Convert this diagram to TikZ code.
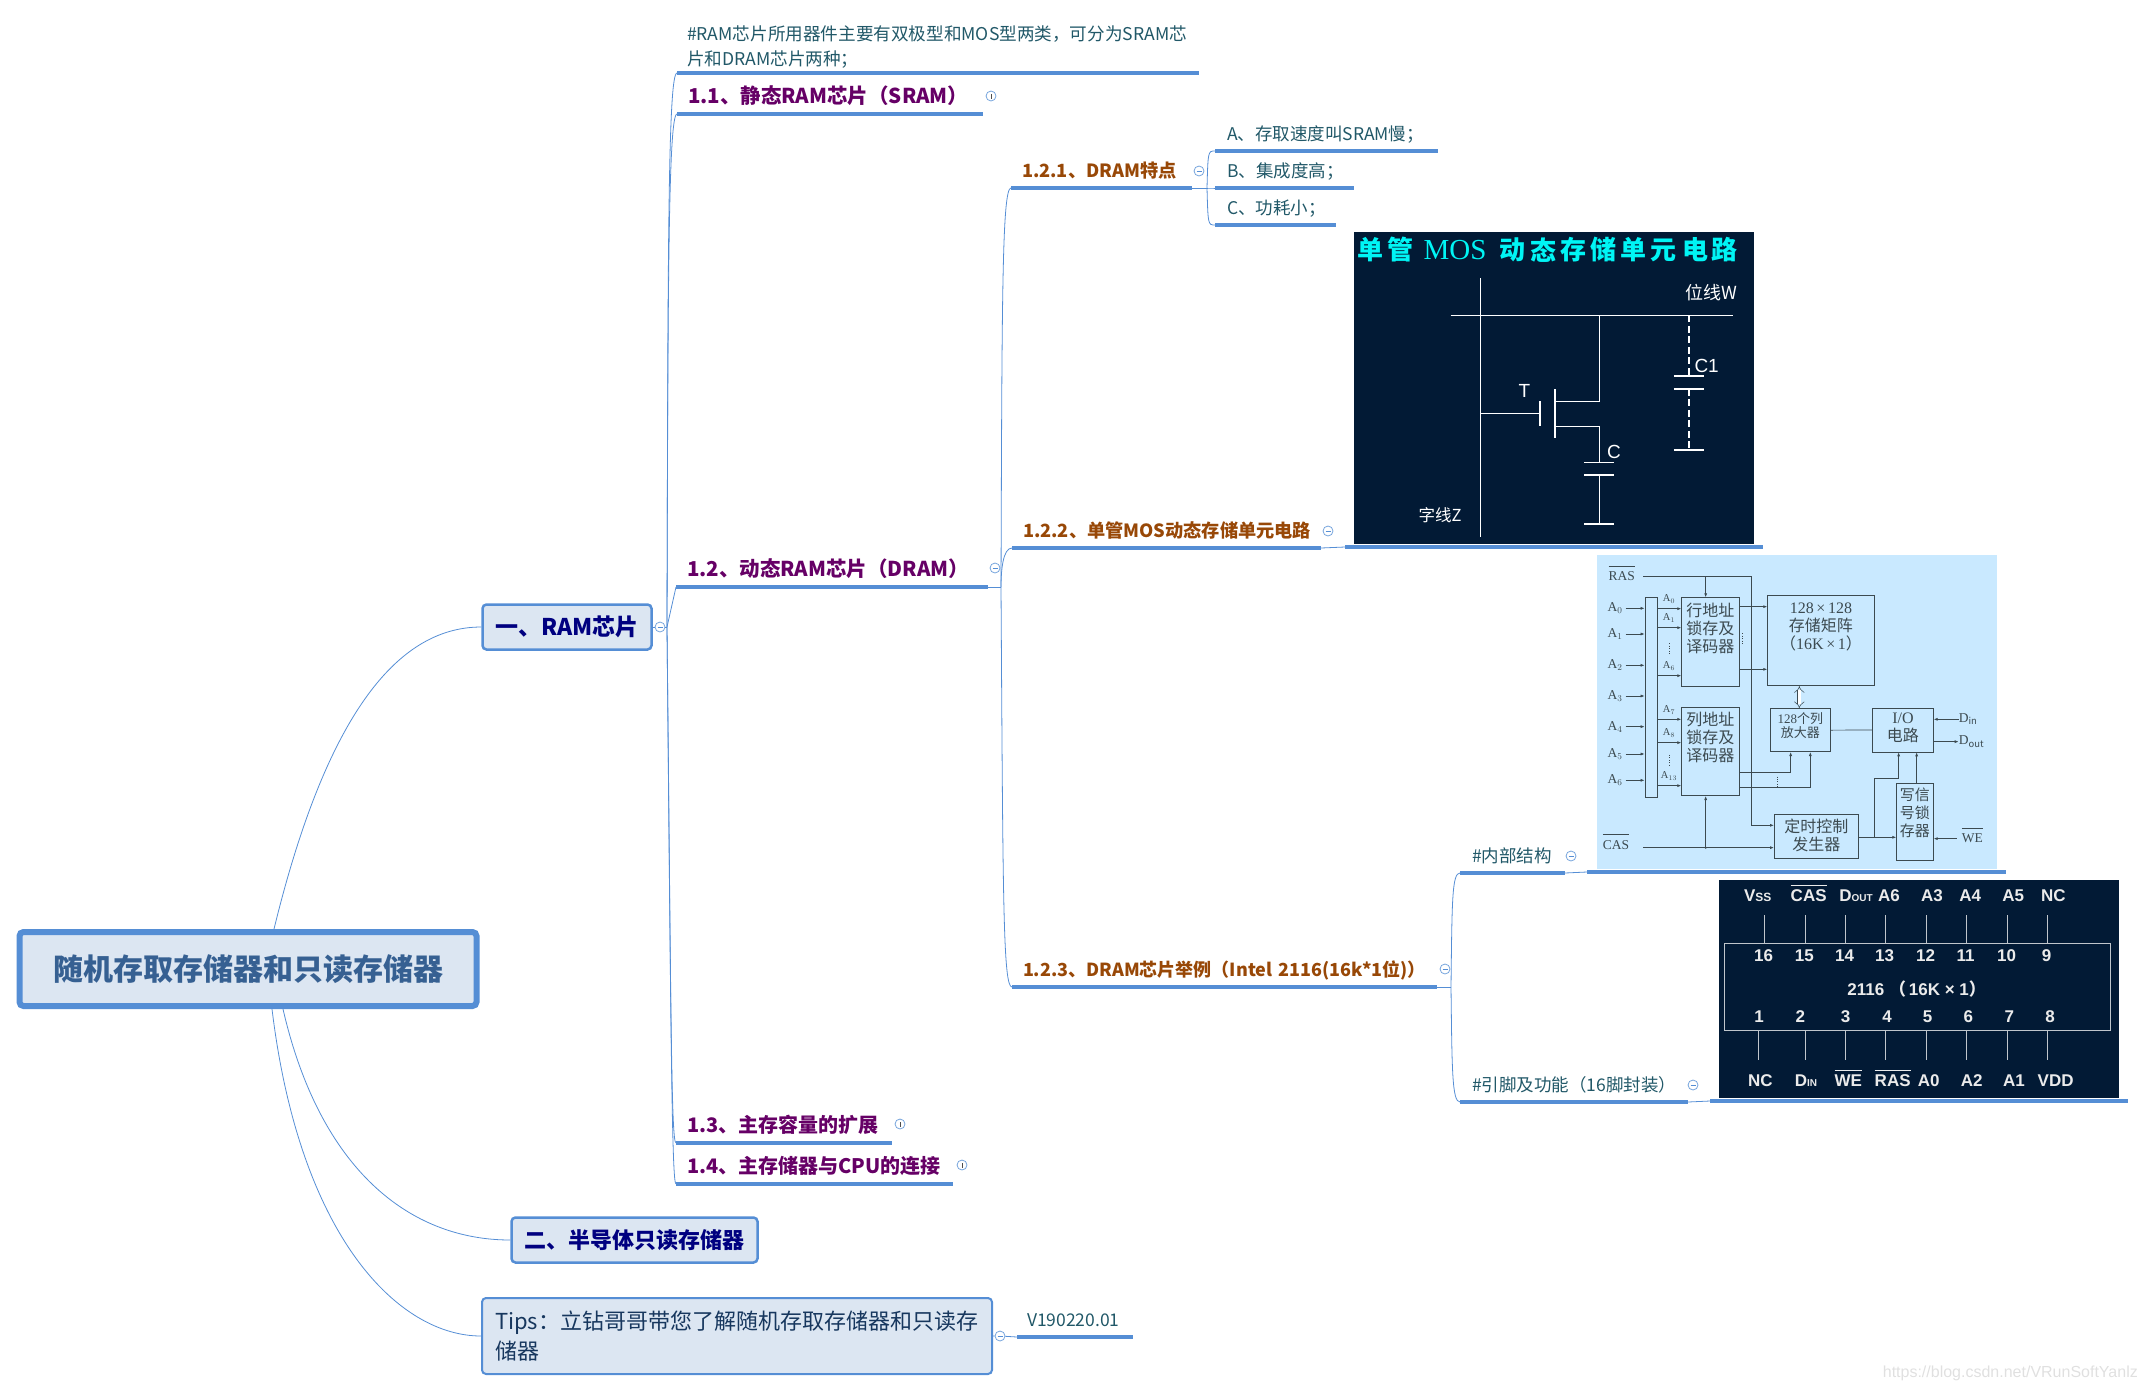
\documentclass[tikz,border=0pt]{standalone}
\usepackage{fontspec}
\setmainfont{Noto Sans CJK SC}
\newfontfamily\imgserif{Liberation Serif}
\newfontfamily\imgsans{Liberation Sans}
\usepackage{xcolor}
\usetikzlibrary{arrows.meta,positioning}
\definecolor{mapblue}{HTML}{558ED5}
\definecolor{mapfill}{HTML}{DCE6F2}
\definecolor{rootink}{HTML}{366092}
\definecolor{boxink}{HTML}{000080}
\definecolor{subink}{HTML}{660066}
\definecolor{dramink}{HTML}{984807}
\definecolor{noteink}{HTML}{215868}
\definecolor{tipsink}{HTML}{17375E}
\definecolor{imgnavy}{HTML}{021A35}
\definecolor{imgsky}{HTML}{C9E9FF}
\definecolor{imgline}{HTML}{3C4A50}
\definecolor{imgcyan}{HTML}{00F5F5}
\tikzset{
  mapbox/.style  = {draw=mapblue, fill=mapfill, rounded corners=4pt, line width=2.5pt,
                    inner sep=0pt, align=center},
  branch/.style  = {draw=mapblue, line width=.8pt},
  uline/.style   = {draw=mapblue, line width=3.2pt},
  topic/.style   = {anchor=south west, inner ysep=7pt, inner xsep=11pt, outer sep=0pt,
                    text height=15pt, text depth=4pt, align=left,
                    text width=\dimexpr#1pt-22pt\relax,
                    append after command={(\tikzlastnode.south west) edge[uline] (\tikzlastnode.south east)}},
  fold/.style    = {circle, draw=mapblue!80, line width=.8pt, fill=white,
                    minimum size=10pt, inner sep=0pt},
  foldm/.style   = {fold, path picture={\draw[mapblue,line width=.8pt]
                    ([xshift=2.5pt]path picture bounding box.west) -- ([xshift=-2.5pt]path picture bounding box.east);}},
  foldp/.style   = {foldm, path picture={\draw[black!70,line width=.8pt]
                    ([yshift=2.5pt]path picture bounding box.south) -- ([yshift=-2.5pt]path picture bounding box.north);}},
  lvlb/.style    = {font=\bfseries\fontsize{20}{24}\selectfont, text=subink},
  lvlc/.style    = {font=\bfseries\fontsize{18.2}{24}\selectfont, text=dramink},
  lvld/.style    = {font=\fontsize{17.5}{22}\selectfont, text=noteink},
  imgrect/.style = {draw=imgline, line width=.7pt, inner sep=0pt},
  imgtxt/.style  = {text=imgline, align=center, inner sep=0pt, font=\fontsize{16}{18}\selectfont},
  imglab/.style  = {text=imgline, inner sep=0pt, font=\imgserif\fontsize{13.5}{15}\selectfont},
  imgsmall/.style= {text=imgline, inner sep=0pt, font=\imgserif\fontsize{10.5}{12}\selectfont},
  sig/.style     = {imgline, line width=.7pt, -{Latex[length=4pt,width=3pt]}},
  wire/.style    = {white, line width=1.6pt},
  dashwire/.style= {wire, dash pattern=on 7pt off 3.5pt},
  wirelab/.style = {text=white, inner sep=0pt, font=\imgsans\fontsize{19}{22}\selectfont},
  pin/.style     = {draw=white!75!imgnavy, line width=.7pt},
  pintxt/.style  = {text=white!92!black, inner sep=0pt, font=\imgsans\bfseries\fontsize{17}{20}\selectfont},
}
\newcommand{\barlab}[2]{$\overline{\mbox{\rule{0pt}{#1}#2}}$}
\begin{document}
\begin{tikzpicture}[x=1pt,y=-1pt]
\useasboundingbox (0,0) rectangle (2146,1392);
% boxes on the left
\node[mapbox, line width=6pt, minimum width=457pt, minimum height=74pt, text=rootink,
      font=\bfseries\fontsize{30}{34}\selectfont] (root) at (248,969) {随机存取存储器和只读存储器};
\node[mapbox, minimum width=169pt, minimum height=45pt, text=boxink,
      font=\bfseries\fontsize{23}{28}\selectfont] (ram) at (567,627) {一、RAM芯片};
\node[mapbox, minimum width=246pt, minimum height=45pt, text=boxink,
      font=\bfseries\fontsize{22}{28}\selectfont] (rom) at (634.5,1240) {二、半导体只读存储器};
\node[mapbox, line width=2pt, minimum width=510pt, minimum height=76pt, text=tipsink,
      text width=484pt, align=left, font=\fontsize{22}{30}\selectfont] (tips) at (737,1336)
  {Tips：立钻哥哥带您了解随机存取存储器和只读存\\储器};
\draw[branch] ([xshift=26pt]root.north) .. controls (325,720) and (395,627) .. (ram.west);
\draw[branch] ([xshift=35pt]root.south) .. controls (320,1170) and (410,1240) .. (rom.west);
\draw[branch] ([xshift=24pt]root.south) .. controls (300,1240) and (400,1336) .. (tips.west);
% version tag
\node[foldm] (ftips) at (1000,1336) {};
\node[topic=118, lvld, inner xsep=10pt] (ver) at (1017,1337) {V190220.01};
\draw[branch] (tips.east) -- (ftips) -- (ver.south west);
% first level under the RAM box
\node[foldm] (fram) at (660,627) {};
\coordinate (jram) at (667,627);
\draw[branch] (ram.east) -- (fram) -- (jram);
\node[anchor=south west, outer sep=0pt, inner xsep=10pt, inner ysep=5pt, align=left, text width=502pt,
      lvld, font=\fontsize{17.6}{24.5}\selectfont,
      append after command={(\tikzlastnode.south west) edge[uline] (\tikzlastnode.south east)}] (note) at (677,73)
  {\#RAM芯片所用器件主要有双极型和MOS型两类，可分为SRAM芯\\片和DRAM芯片两种；};
\node[topic=306, lvlb, font=\bfseries\fontsize{20.5}{24}\selectfont] (sram) at (677,114) {1.1、静态RAM芯片（SRAM）};
\node[topic=312, lvlb, font=\bfseries\fontsize{20.5}{24}\selectfont] (dram) at (676,587) {1.2、动态RAM芯片（DRAM）};
\node[topic=216, lvlb] (expand) at (676,1143) {1.3、主存容量的扩展};
\node[topic=277, lvlb] (cpu) at (676,1184) {1.4、主存储器与CPU的连接};
\node[foldp] (fsram) at (991,96) {};
\node[foldm] (fdram) at (995,568) {};
\node[foldp] (fexpand) at (900,1124) {};
\node[foldp] (fcpu) at (962,1165) {};
\draw[branch] (jram) .. controls (668,250) and (668,73) .. (note.south west);
\draw[branch] (jram) .. controls (668,300) and (668,114) .. (sram.south west);
\draw[branch] (jram) -- (dram.south west);
\draw[branch] (jram) .. controls (671,1000) and (671,1143) .. (expand.south west);
\draw[branch] (jram) .. controls (671,1050) and (672,1184) .. (cpu.south west);
% second level under 1.2
\coordinate (jdram) at (1001,587);
\draw[branch] (dram.south east) -- (jdram);
\node[topic=181, lvlc] (feat) at (1011,188) {1.2.1、DRAM特点};
\node[topic=309, lvlc] (mos) at (1012,548) {1.2.2、单管MOS动态存储单元电路};
\node[topic=425, lvlc, font=\bfseries\fontsize{18}{24}\selectfont] (chip) at (1012,987) {1.2.3、DRAM芯片举例（Intel~2116(16k*1位)）};
\node[foldm] (ffeat) at (1199,171) {};
\node[foldm] (fmos) at (1328,531) {};
\node[foldm] (fchip) at (1445,969) {};
\draw[branch] (jdram) .. controls (1002,300) and (1002,188) .. (feat.south west);
\draw[branch] (jdram) .. controls (1001,570) and (1003,548) .. (mos.south west);
\draw[branch] (jdram) .. controls (1003,900) and (1003,987) .. (chip.south west);
% three short notes of 1.2.1
\coordinate (jfeat) at (1207,188);
\draw[branch] (feat.south east) -- (jfeat);
\foreach \n/\y/\w/\lab in {a/151/221/A、存取速度叫SRAM慢；, b/188/137/B、集成度高；, c/225/119/C、功耗小；}{
  \node[topic=\w, lvld, inner xsep=12pt] (note\n) at (1215,\y) {\lab};
  \draw[branch] (jfeat) .. controls (1208,\y) and (1208,\y) .. (note\n.south west);}
% image under 1.2.2
\coordinate (mosa) at (1345,547);
\coordinate (mosb) at (1763,547);
\draw[branch] (mos.south east) -- (mosa);
\draw[uline] (mosa) -- (mosb);
\node[fill=imgnavy, minimum width=400pt, minimum height=312pt, inner sep=0pt] (mosimg) at (1554,388) {};
\begin{scope}[shift={(1340,220)},x=0.3333pt,y=-0.3333pt]
\foreach \x/\lab [count=\i] in {90/单, 182/管, 345/{\imgserif\mdseries\fontsize{29}{30}\selectfont MOS}, 517/动, 610/态, 700/存, 790/储, 880/单, 972/元, 1067/电, 1155/路}{
  \node[text=imgcyan, inner sep=0pt, font=\bfseries\fontsize{26}{28}\selectfont] (ttl\i) at (\x,90) {\lab};}
\draw[wire] (421,174) -- (421,950);
\draw[wire] (332,286) -- (1180,286);
\draw[wire] (778,286) -- (778,545) -- (645,545);
\draw[wire] (645,508) -- (645,655);
\draw[wire] (645,620) -- (778,620) -- (778,728);
\draw[wire] (733,728) -- (823,728);
\draw[wire] (733,765) -- (823,765);
\draw[wire] (778,765) -- (778,912);
\draw[wire] (733,912) -- (823,912);
\draw[wire] (421,580) -- (600,580);
\draw[wire] (600,544) -- (600,617);
\draw[dashwire] (1047,286) -- (1047,468);
\draw[wire] (1002,468) -- (1092,468);
\draw[wire] (1002,507) -- (1092,507);
\draw[dashwire] (1047,507) -- (1047,690);
\draw[wire] (1002,690) -- (1092,690);
\node[wirelab] (lblt) at (553,512) {T};
\node[wirelab] (lblc) at (822,697) {C};
\node[wirelab] (lblca) at (1100,437) {C1};
\node[wirelab, font=\fontsize{16.5}{18}\selectfont] (lblz) at (300,885) {字线Z};
\node[wirelab, font=\fontsize{18}{20}\selectfont] (lblw) at (1115,218) {位线W};
\end{scope}
% block diagram under the first child of 1.2.3
\node[topic=103, lvld, inner xsep=12pt] (inner) at (1460,873) {\#内部结构};
\node[topic=226, lvld, inner xsep=12pt] (pins) at (1460,1102) {\#引脚及功能（16脚封装）};
\node[foldm] (finner) at (1571,856) {};
\node[foldm] (fpins) at (1693,1085) {};
\coordinate (jchip) at (1451,987);
\draw[branch] (chip.south east) -- (jchip);
\draw[branch] (jchip) .. controls (1452,900) and (1452,873) .. (inner.south west);
\draw[branch] (jchip) .. controls (1452,1070) and (1452,1102) .. (pins.south west);
\coordinate (blka) at (1587,872);
\coordinate (blkb) at (2006,872);
\draw[branch] (inner.south east) -- (blka);
\draw[uline] (blka) -- (blkb);
\node[fill=imgsky, minimum width=400pt, minimum height=314pt, inner sep=0pt] (blkimg) at (1797,712) {};
\begin{scope}[shift={(1590,550)},x=0.3333pt,y=-0.3333pt]
\node[imgrect, minimum width=12.7pt, minimum height=200pt] (addrbus) at (184,443) {};
\node[imgrect, minimum width=57.3pt, minimum height=88.3pt] (rowdec) at (361,275.5) {};
\node[imgrect, minimum width=57.3pt, minimum height=88pt] (coldec) at (361,605) {};
\node[imgrect, minimum width=106.7pt, minimum height=90.3pt] (matrix) at (693,271.5) {};
\node[imgrect, minimum width=60.7pt, minimum height=43pt] (sense) at (631,540.5) {};
\node[imgrect, minimum width=60.7pt, minimum height=44pt] (iocirc) at (939,540) {};
\node[imgrect, minimum width=84.3pt, minimum height=44pt] (timing) at (679.5,859) {};
\node[imgrect, minimum width=36.7pt, minimum height=77pt] (wrlatch) at (975,815.5) {};
\node[imgtxt] (rowtxt) at (361,234) {行地址\\锁存及\\译码器};
\node[imgtxt] (coltxt) at (361,562) {列地址\\锁存及\\译码器};
\node[imgtxt] (mattxt) at (693,230) {{\imgserif 128\,×\,128}\\存储矩阵\\（{\imgserif 16K\,×\,1}）};
\node[imgtxt, font=\fontsize{13}{14.5}\selectfont] (sentxt) at (631,527) {{\imgserif 128}个列\\放大器};
\node[imgtxt] (iotxt) at (939,534) {{\imgserif I/O}\\电路};
\node[imgtxt] (timtxt) at (679,856) {定时控制\\发生器};
\node[imgtxt, font=\fontsize{15}{18}\selectfont] (wrtxt) at (975,788) {写信\\号锁\\存器};
\node[imglab, anchor=base] (ras) at (95,92) {\barlab{13.5pt}{RAS}};
\node[imglab, anchor=base] (cas) at (78,898) {\barlab{13.5pt}{CAS}};
\node[imglab, anchor=base] (we) at (1147,878) {\barlab{13.5pt}{WE}};
\foreach \i/\y in {0/175,1/252,2/346,3/438,4/530,5/612,6/691}{
  \node[imglab, anchor=east] (adr\i) at (98,\y) {A$_{\i}$};
  \draw[sig] ([xshift=3pt]adr\i.east) -- (addrbus.west |- adr\i);}
\foreach \y/\lab in {176/A$_{0}$, 233/A$_{1}$, 377/A$_{6}$, 508/A$_{7}$, 578/A$_{8}$, 707/A$_{13}$}{
  \coordinate (busout) at (addrbus.east |- 0,\y);
  \coordinate (busin) at (rowdec.west |- 0,\y);
  \draw[sig] (busout) -- (busin);
  \node[imgsmall, anchor=south] (tap\y) at (237,\y-15) {\lab};}
\draw[imgline,dotted] (238,280) -- (238,310);
\draw[imgline,dotted] (238,615) -- (238,645);
\draw[imgline,dotted] (457,250) -- (457,285);
\draw[imgline,dotted] (561,680) -- (561,712);
\draw[imgline, line width=.7pt] ([xshift=8pt]ras.east |- 0,78) -- (485,78);
\draw[sig] (347,78) -- (rowdec.north -| 347,0);
\draw[sig] (485,78) |- (timing.west |- 0,826);
\draw[sig] (rowdec.east |- 0,170) -- (matrix.west |- 0,170);
\draw[sig] (rowdec.east |- 0,358) -- (matrix.west |- 0,358);
\draw[sig] (coldec.east |- 0,667) -| (sense.south -| 602,0);
\draw[sig] (coldec.east |- 0,713) -| (sense.south -| 661,0);
\draw[imgline, line width=.7pt] (sense.east) -- (iocirc.west);
\draw[{Implies}-{Implies},double,imgline,line width=.5pt,double distance=3.2pt] (matrix.south -| 628,0) -- (sense.north -| 628,0);
\draw[sig] ([xshift=14pt]cas.east |- 0,893) -- (timing.west |- 0,893);
\draw[sig] (347,893) -- (coldec.south -| 347,0);
\fill[imgline] (347,893) circle (1.2pt);
\node[imglab, anchor=west] (din) at (1106,508) {D$_{\mathrm{in}}$};
\node[imglab, anchor=west] (dout) at (1106,575) {D$_{\mathrm{out}}$};
\draw[sig] (din.west) -- (iocirc.east |- din);
\draw[sig] (iocirc.east |- dout) -- (dout.west);
\draw[sig] (timing.east |- 0,862) -- (wrlatch.west |- 0,862);
\draw[sig] (854,862) |- (926,685) -- (iocirc.south -| 926,0);
\draw[sig] (wrlatch.north -| 980,0) -- (iocirc.south -| 980,0);
\draw[sig] ([xshift=-5pt]we.west |- 0,866) -- (wrlatch.east |- 0,866);
\end{scope}
% pin map under the second child of 1.2.3
\coordinate (pina) at (1710,1101);
\coordinate (pinb) at (2128,1101);
\draw[branch] (pins.south east) -- (pina);
\draw[uline] (pina) -- (pinb);
\node[fill=imgnavy, minimum width=400pt, minimum height=218pt, inner sep=0pt] (pinimg) at (1919,989) {};
\begin{scope}[shift={(1700,870)},x=0.3333pt,y=-0.3333pt]
\draw[pin, line width=1pt] (72,221) rectangle (1233,481);
\foreach \x/\y in {193/16,315/15,436/14,556/13,679/12,799/11,922/10,1042/9}{
  \draw[pin] (\x,135) -- (\x,221);
  \node[pintxt] (num\y) at (\x-2,257) {\y};}
\foreach \x/\y/\t in {176/1/177,315/2/301,436/3/437,556/4/561,679/5/683,799/6/805,922/7/928,1042/8/1050}{
  \draw[pin] (\x,481) -- (\x,570);
  \node[pintxt] (num\y) at (\t,440) {\y};}
\foreach \x/\lab [count=\i] in {173/{V{\fontsize{12}{14}\selectfont SS}}, 326/\barlab{15pt}{CAS},
    468/{D{\fontsize{10}{12}\selectfont OUT}}, 567/A6, 696/A3, 811/A4, 940/A5, 1060/NC}{
  \node[pintxt, anchor=base] (top\i) at (\x,94) {\lab};}
\foreach \x/\lab [count=\i] in {181/NC, 318/{D{\fontsize{10}{12}\selectfont IN}}, 445/\barlab{15pt}{WE},
    578/\barlab{15pt}{RAS}, 686/A0, 815/A2, 942/A1, 1067/VDD}{
  \node[pintxt, anchor=base] (bot\i) at (\x,650) {\lab};}
\node[pintxt] (partno) at (650,357) {2116 {\rmfamily （}\,16K × 1{\rmfamily ）}};
\end{scope}
\node[text=black!12, inner sep=0pt, anchor=east, font=\imgsans\fontsize{16}{20}\selectfont] (wmark) at (2138,1373) {https://blog.csdn.net/VRunSoftYanlz};
\end{tikzpicture}
\end{document}
